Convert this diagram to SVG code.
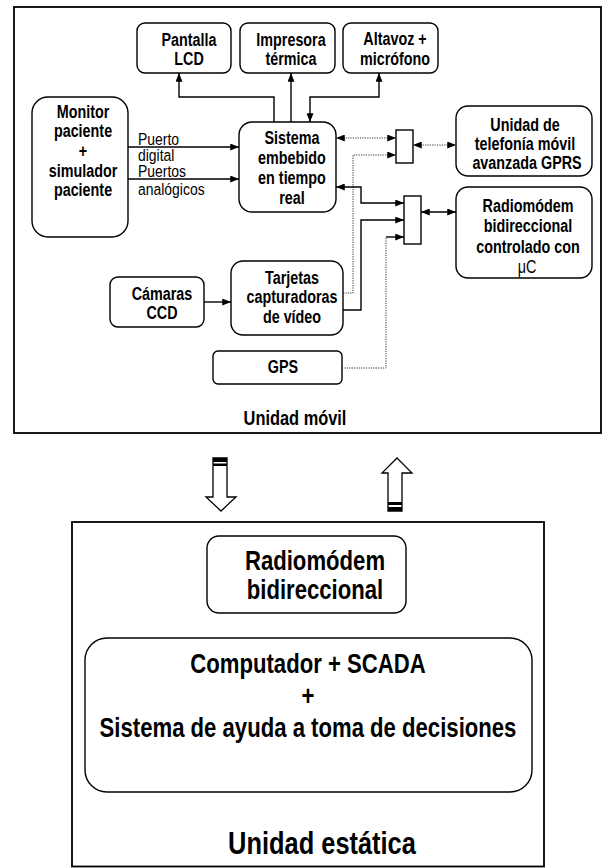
<svg xmlns="http://www.w3.org/2000/svg" width="604" height="868" viewBox="0 0 604 868">
<style>
.n{fill:#fff;stroke:#000;stroke-width:1.4}
.f{fill:none;stroke:#000;stroke-width:1.8}
.t{font-family:"Liberation Sans","Arial",sans-serif;font-weight:bold;font-size:17.5px;text-anchor:middle;fill:#000}
.p{font-family:"Liberation Sans","Arial",sans-serif;font-size:17px;fill:#000}
.b{font-family:"Liberation Sans","Arial",sans-serif;font-weight:bold;font-size:27px;text-anchor:middle;fill:#000}
.c{fill:none;stroke:#000;stroke-width:1.4}
.d{fill:none;stroke:#333;stroke-width:1;stroke-dasharray:1.2 1.2}
</style>
<defs>
<marker id="ah" viewBox="0 0 10 8" markerWidth="9" markerHeight="7" refX="10" refY="4" orient="auto-start-reverse" markerUnits="userSpaceOnUse"><path d="M0,0 L10,4 L0,8 z" fill="#000"/></marker>
</defs>
<rect width="604" height="868" fill="#fff"/>

<g id="unidad-movil">
<rect class="f" x="14" y="7" width="587" height="426"/>
<text class="t" transform="translate(295,425) scale(.82,1)" style="font-size:20px">Unidad móvil</text>
</g>

<g id="pantalla">
<rect class="n" x="137" y="23" width="94" height="50" rx="8"/>
<text class="t" transform="translate(189,46) scale(.82,1)">Pantalla</text>
<text class="t" transform="translate(189,65) scale(.82,1)">LCD</text>
</g>
<g id="impresora">
<rect class="n" x="240" y="23" width="95" height="50" rx="8"/>
<text class="t" transform="translate(291,46) scale(.82,1)">Impresora</text>
<text class="t" transform="translate(291,65) scale(.82,1)">térmica</text>
</g>
<g id="altavoz">
<rect class="n" x="343" y="23" width="95" height="50" rx="8"/>
<text class="t" transform="translate(395,45) scale(.82,1)">Altavoz +</text>
<text class="t" transform="translate(395,65) scale(.82,1)">micrófono</text>
</g>
<g id="monitor">
<rect class="n" x="32" y="97" width="96" height="140" rx="16"/>
<text class="t" transform="translate(83,118) scale(.82,1)">Monitor</text>
<text class="t" transform="translate(83,137) scale(.82,1)">paciente</text>
<text class="t" transform="translate(83,157) scale(.82,1)">+</text>
<text class="t" transform="translate(83,177) scale(.82,1)">simulador</text>
<text class="t" transform="translate(83,196) scale(.82,1)">paciente</text>
</g>
<g id="sistema">
<rect class="n" x="239" y="122" width="97" height="90" rx="13"/>
<text class="t" transform="translate(292,144) scale(.82,1)">Sistema</text>
<text class="t" transform="translate(292,164) scale(.82,1)">embebido</text>
<text class="t" transform="translate(292,184) scale(.82,1)">en tiempo</text>
<text class="t" transform="translate(292,204) scale(.82,1)">real</text>
</g>
<g id="mux1">
<rect class="n" x="396" y="130" width="17" height="33"/>
</g>
<g id="gprs">
<rect class="n" x="456" y="106" width="136" height="70" rx="12"/>
<text class="t" transform="translate(525,131) scale(.82,1)">Unidad de</text>
<text class="t" transform="translate(525,150) scale(.82,1)">telefonía móvil</text>
<text class="t" transform="translate(527,169) scale(.82,1)">avanzada GPRS</text>
</g>
<g id="mux2">
<rect class="n" x="404" y="196" width="17" height="48"/>
</g>
<g id="radiomodem-movil">
<rect class="n" x="456" y="187" width="136" height="91" rx="12"/>
<text class="t" transform="translate(528,212) scale(.82,1)">Radiomódem</text>
<text class="t" transform="translate(528,232) scale(.82,1)">bidireccional</text>
<text class="t" transform="translate(528,253) scale(.82,1)">controlado con</text>
<text class="t" transform="translate(527,273) scale(.82,1)" style="font-weight:normal">μC</text>
</g>
<g id="camaras">
<rect class="n" x="110" y="277" width="94" height="50" rx="8"/>
<text class="t" transform="translate(162,300) scale(.82,1)">Cámaras</text>
<text class="t" transform="translate(162,319) scale(.82,1)">CCD</text>
</g>
<g id="tarjetas">
<rect class="n" x="231" y="261" width="112" height="74" rx="12"/>
<text class="t" transform="translate(292,284) scale(.82,1)">Tarjetas</text>
<text class="t" transform="translate(292,303) scale(.82,1)">capturadoras</text>
<text class="t" transform="translate(292,323) scale(.82,1)">de vídeo</text>
</g>
<g id="gps">
<rect class="n" x="213" y="351" width="129" height="33" rx="5"/>
<text class="t" transform="translate(283,373) scale(.82,1)">GPS</text>
</g>

<g id="connectors">
<path class="c" d="M274,122 V97 H179 V73" marker-end="url(#ah)"/>
<path class="c" d="M291,122 V73" marker-end="url(#ah)"/>
<path class="c" d="M379,73 V97 H310 V122" marker-start="url(#ah)" marker-end="url(#ah)"/>
<path class="c" d="M128,147 H239" marker-end="url(#ah)"/>
<path class="c" d="M128,179 H239" marker-end="url(#ah)"/>
<path class="d" d="M336,138 H396" marker-start="url(#ah)" marker-end="url(#ah)"/>
<path class="d" d="M413,145 H456" marker-start="url(#ah)" marker-end="url(#ah)"/>
<path class="d" d="M343,293 H353 V155 H396" marker-end="url(#ah)"/>
<path class="c" d="M336,187 H361 V203 H404" marker-start="url(#ah)" marker-end="url(#ah)"/>
<path class="c" d="M343,310 H361 V220 H404" marker-end="url(#ah)"/>
<path class="d" d="M342,368 H386 V237"/>
<path class="c" d="M386,237 H404" marker-end="url(#ah)"/>
<path class="c" d="M421,212 H456" marker-start="url(#ah)" marker-end="url(#ah)"/>
<path class="c" d="M204,302 H231" marker-end="url(#ah)"/>
<text class="p" transform="translate(138,145) scale(.82,1)">Puerto</text>
<text class="p" transform="translate(138,161) scale(.82,1)">digital</text>
<text class="p" transform="translate(138,177) scale(.82,1)">Puertos</text>
<text class="p" transform="translate(138,195) scale(.82,1)">analógicos</text>
</g>

<g id="flechas">
<path d="M213,458 H227 V497 H236 L221,511 L206,497 H213 Z" fill="#fff" stroke="#000" stroke-width="1.3"/>
<rect x="213" y="458" width="14" height="4" fill="#000"/>
<rect x="213" y="463.5" width="14" height="2.5" fill="#000"/>
<path d="M397,458 L412,473 H402 V511 H388 V473 H382 Z" fill="#fff" stroke="#000" stroke-width="1.3"/>
<rect x="388" y="502" width="14" height="3" fill="#000"/>
<rect x="388" y="507" width="14" height="4" fill="#000"/>
</g>

<g id="unidad-estatica">
<rect class="f" x="72" y="522" width="472" height="344.5"/>
<text class="b" transform="translate(322,854) scale(.82,1)" style="font-size:31px">Unidad estática</text>
</g>
<g id="radiomodem-estatica">
<rect class="n" x="207" y="536" width="199" height="77" rx="12"/>
<text class="b" transform="translate(315,570) scale(.82,1)">Radiomódem</text>
<text class="b" transform="translate(315,599) scale(.82,1)">bidireccional</text>
</g>
<g id="computador">
<rect class="n" x="85" y="638" width="447" height="154" rx="22"/>
<text class="b" transform="translate(308,673) scale(.82,1)">Computador + SCADA</text>
<text class="b" transform="translate(308,705) scale(.82,1)">+</text>
<text class="b" transform="translate(308,737) scale(.82,1)">Sistema de ayuda a toma de decisiones</text>
</g>
</svg>
